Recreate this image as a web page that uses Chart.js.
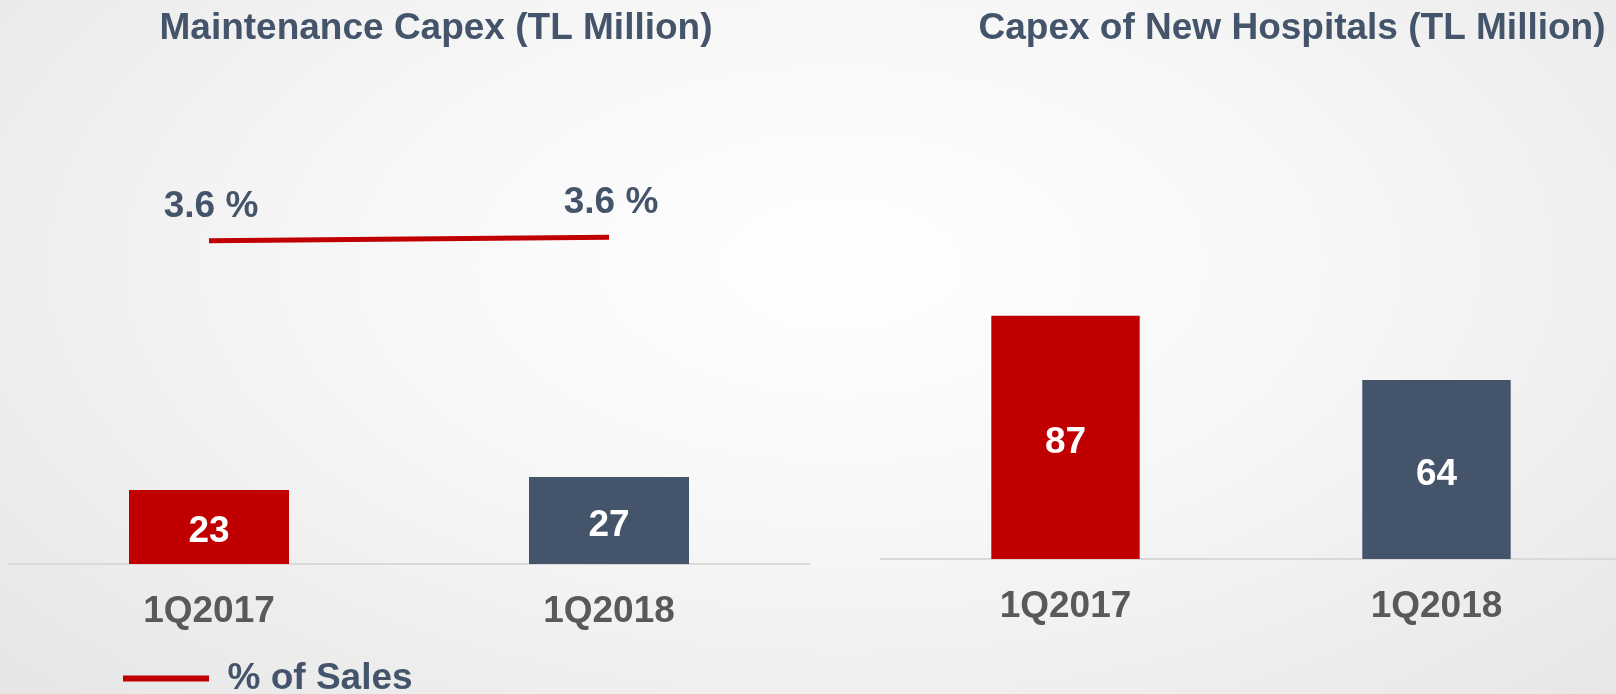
<!DOCTYPE html>
<html>
<head>
<meta charset="utf-8">
<script src="https://cdn.jsdelivr.net/npm/chart.js@4.4.1/dist/chart.umd.min.js"></script>
<style>
  html, body { margin: 0; padding: 0; width: 1616px; height: 694px; overflow: hidden; }
  body {
    position: relative;
    background: radial-gradient(ellipse 75% 95% at 52% 38%, #ffffff 0%, #f7f7f7 40%, #e4e4e4 100%);
  }
  #maint { position: absolute; left: 0; top: 0; }
  #newhosp { position: absolute; left: 880px; top: 0; }
</style>
</head>
<body>
<canvas id="maint" width="863" height="694"></canvas>
<canvas id="newhosp" width="824" height="694"></canvas>
<script>
const quarters = ["1Q2017", "1Q2018"];
const maintenanceCapex = [23, 27];
const percentOfSales = [3.58, 3.62];
const newHospitalCapex = [87, 64];

const RED = "#C00000";
const SLATE = "#44546A";
const barColors = [RED, SLATE];
const bigFont = { size: 37, weight: "bold", lineHeight: 1.2 };

Chart.defaults.font.family = "'Liberation Sans', Arial, sans-serif";

// white numbers inside the bars, "x.x %" over the line points
const valueLabels = {
    id: "valueLabels",
    afterDatasetsDraw(chart) {
        const ctx = chart.ctx;
        ctx.save();
        ctx.font = "bold 37px 'Liberation Sans', Arial, sans-serif";
        ctx.textAlign = "center";
        ctx.textBaseline = "middle";
        chart.data.datasets.forEach((ds, i) => {
            const meta = chart.getDatasetMeta(i);
            meta.data.forEach((el, j) => {
                if (meta.type === "bar") {
                    ctx.fillStyle = "#ffffff";
                    ctx.fillText(ds.data[j], el.x, (el.y + el.base) / 2 + 5);
                } else {
                    ctx.fillStyle = SLATE;
                    ctx.fillText(ds.data[j].toFixed(1) + " %", el.x + 2, el.y - 34);
                }
            });
        });
        ctx.restore();
    },
};

// legend sits under the first category, not centred
const legendShift = {
    id: "legendShift",
    afterLayout(chart) {
        if (chart.legend) chart.legend.left = 123;
    },
};

function titleOpts(text) {
    return {
        display: true,
        text: text,
        color: SLATE,
        font: bigFont,
        padding: { top: 7, bottom: 48.6 },
    };
}

function xAxis(height) {
    return {
        grid: { display: false, drawTicks: false },
        border: { color: "#d9d9d9", width: 2 },
        ticks: { padding: 26, color: "#595959", font: bigFont },
        afterFit: (s) => { s.height = height; },
    };
}

function spacerAxis(width, max) {
    return {
        position: "right",
        min: 0,
        max: max,
        grid: { display: false, drawTicks: false },
        border: { display: false },
        ticks: { display: false },
        afterFit: (s) => { s.width = width; },
    };
}

new Chart(document.getElementById("maint"), {
    type: "bar",
    data: {
        labels: quarters,
        datasets: [
            {
                type: "line",
                label: "% of Sales",
                data: percentOfSales,
                yAxisID: "y1",
                borderColor: RED,
                backgroundColor: RED,
                borderWidth: 5,
                pointRadius: 0,
                order: 0,
            },
            {
                type: "bar",
                label: "Maintenance Capex",
                data: maintenanceCapex,
                yAxisID: "y",
                backgroundColor: barColors,
                barPercentage: 0.4,
                categoryPercentage: 1,
                order: 1,
            },
        ],
    },
    options: {
        responsive: false,
        animation: false,
        layout: { padding: { left: 9, right: 0, top: 0, bottom: -13 } },
        plugins: {
            title: titleOpts("Maintenance Capex (TL Million)"),
            legend: {
                position: "bottom",
                align: "start",
                labels: {
                    padding: 0,
                    boxWidth: 86,
                    boxHeight: 6,
                    color: SLATE,
                    font: bigFont,
                    generateLabels: (chart) =>
                        Chart.defaults.plugins.legend.labels.generateLabels(chart)
                            .filter((l) => l.datasetIndex === 0)
                            .map((l) => ({ ...l, lineWidth: 0, fillStyle: RED })),
                },
            },
            tooltip: { enabled: false },
        },
        scales: {
            x: xAxis(96),
            y: { display: false, min: 0, max: 144.1 },
            y1: spacerAxis(54, 5.14),
        },
    },
    plugins: [valueLabels, legendShift],
});

new Chart(document.getElementById("newhosp"), {
    type: "bar",
    data: {
        labels: quarters,
        datasets: [
            {
                label: "Capex of New Hospitals",
                data: newHospitalCapex,
                backgroundColor: barColors,
                barPercentage: 0.4,
                categoryPercentage: 1,
            },
        ],
    },
    options: {
        responsive: false,
        animation: false,
        plugins: {
            title: titleOpts("Capex of New Hospitals (TL Million)"),
            legend: { display: false },
            tooltip: { enabled: false },
        },
        scales: {
            x: xAxis(135),
            y: { display: false, min: 0, max: 164.2 },
            y1: spacerAxis(82, 1),
        },
    },
    plugins: [valueLabels],
});
</script>
</body>
</html>
